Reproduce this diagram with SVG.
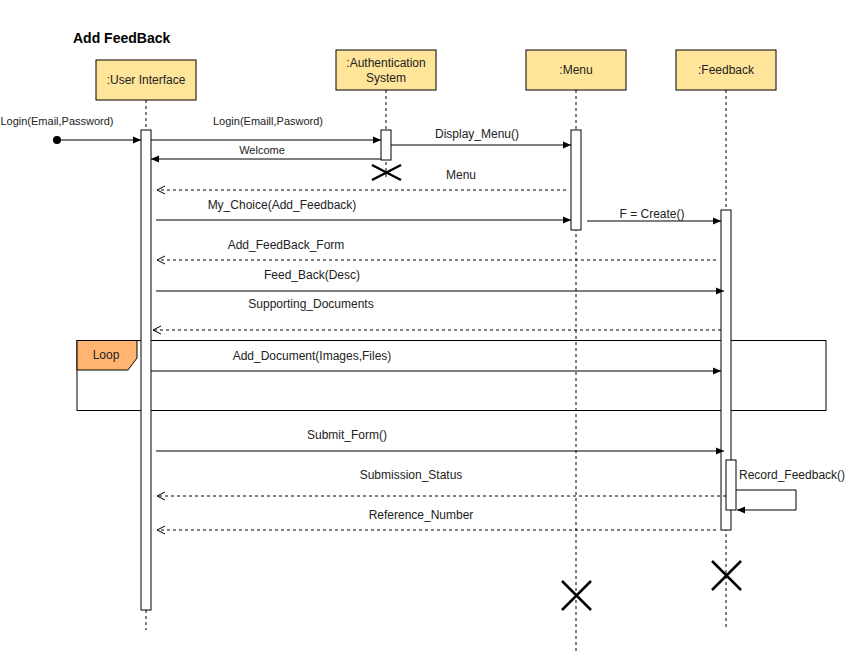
<svg xmlns="http://www.w3.org/2000/svg" width="857" height="651" viewBox="0 0 857 651">
<style>
.box{fill:#FFE599;stroke:#000;stroke-width:1}
.life{stroke:#000;stroke-width:1;stroke-dasharray:3 3;fill:none}
.act{fill:#fff;stroke:#000;stroke-width:1}
.msg{stroke:#000;stroke-width:1;fill:none;marker-end:url(#block)}
.ret{stroke:#000;stroke-width:1;fill:none;stroke-dasharray:3 3;marker-end:url(#open)}
.kill{stroke:#000;stroke-width:2.5;fill:none}
text{font-family:"Liberation Sans",Arial,sans-serif;font-size:12px;fill:#222}
.c{text-anchor:middle}
.s{font-size:11px}
</style>
<defs>
<marker id="block" viewBox="0 0 10 10" refX="9" refY="5" markerWidth="9" markerHeight="9" markerUnits="userSpaceOnUse" orient="auto">
<path d="M0,1 L9,5 L0,9 z" fill="#000"/>
</marker>
<marker id="open" viewBox="0 0 10 10" refX="9" refY="5" markerWidth="10" markerHeight="10" markerUnits="userSpaceOnUse" orient="auto">
<path d="M1,1 L9,5 L1,9" fill="none" stroke="#000" stroke-width="1"/>
</marker>
</defs>
<rect width="857" height="651" fill="#fff"/>
<text x="73" y="43" style="font-size:14px;font-weight:bold;fill:#000">Add FeedBack</text>

<g id="frame-loop">
<rect x="77" y="340.5" width="749" height="70" fill="none" stroke="#000"/>
<path d="M77,340.5 H137 V358 L128,370 H77 Z" fill="#FFB570" stroke="#000"/>
<text x="106" y="359" class="c">Loop</text>
</g>

<g id="node-ui">
<rect class="box" x="96" y="60" width="100" height="40"/>
<text x="146" y="84" class="c">:User Interface</text>
<line class="life" x1="146" y1="100" x2="146" y2="630"/>
<rect class="act" x="141" y="130" width="10" height="480"/>
</g>

<g id="node-auth">
<rect class="box" x="336" y="50" width="100" height="40"/>
<text x="386" y="67" class="c">:Authentication</text>
<text x="386" y="82" class="c">System</text>
<line class="life" x1="386" y1="90" x2="386" y2="180"/>
<rect class="act" x="381" y="130" width="10" height="30"/>
<path class="kill" d="M372,165 L401,180 M372,180 L401,165"/>
</g>

<g id="node-menu">
<rect class="box" x="526" y="50" width="100" height="40"/>
<text x="576" y="74" class="c">:Menu</text>
<line class="life" x1="576" y1="90" x2="576" y2="651"/>
<rect class="act" x="571" y="130" width="10" height="100"/>
<path class="kill" d="M562,581 L591,610 M562,610 L591,581"/>
</g>

<g id="node-feedback">
<rect class="box" x="676" y="50" width="100" height="40"/>
<text x="726" y="74" class="c">:Feedback</text>
<line class="life" x1="726" y1="90" x2="726" y2="627"/>
<rect class="act" x="721" y="210" width="10" height="320"/>
<rect class="act" x="726" y="460" width="10" height="50"/>
<path class="kill" d="M712,561 L741,590 M712,590 L741,561"/>
</g>

<g id="connectors">
<circle cx="57" cy="140" r="4" fill="#000"/>
<line class="msg" x1="57" y1="140" x2="141" y2="140"/>
<text x="57" y="125" class="c s">Login(Email,Password)</text>

<line class="msg" x1="151" y1="140" x2="381" y2="140"/>
<text x="268" y="125" class="c s">Login(Emaill,Pasword)</text>

<line class="msg" x1="381" y1="159" x2="151" y2="159"/>
<text x="262" y="154" class="c s">Welcome</text>

<line class="msg" x1="391" y1="145" x2="571" y2="145"/>
<text x="477" y="138" class="c">Display_Menu()</text>

<line class="ret" x1="566" y1="190" x2="157" y2="190"/>
<text x="461" y="179" class="c">Menu</text>

<line class="msg" x1="156" y1="220" x2="571" y2="220"/>
<text x="282" y="209" class="c">My_Choice(Add_Feedback)</text>

<line class="msg" x1="587" y1="221" x2="721" y2="221"/>
<text x="652" y="218" class="c">F = Create()</text>

<line class="ret" x1="716" y1="260" x2="157" y2="260"/>
<text x="286" y="249" class="c">Add_FeedBack_Form</text>

<line class="msg" x1="156" y1="291" x2="724" y2="291"/>
<text x="312" y="279" class="c">Feed_Back(Desc)</text>

<line class="ret" x1="721" y1="330" x2="153" y2="330"/>
<text x="311" y="308" class="c">Supporting_Documents</text>

<line class="msg" x1="151" y1="371" x2="721" y2="371"/>
<text x="312" y="360" class="c">Add_Document(Images,Files)</text>

<line class="msg" x1="156" y1="451" x2="724" y2="451"/>
<text x="347" y="439" class="c">Submit_Form()</text>

<line class="ret" x1="726" y1="496" x2="157" y2="496"/>
<text x="411" y="479" class="c">Submission_Status</text>

<path class="msg" d="M736,490 H796 V510 H737"/>
<text x="739" y="479">Record_Feedback()</text>

<line class="ret" x1="716" y1="530" x2="157" y2="530"/>
<text x="421" y="519" class="c">Reference_Number</text>
</g>
</svg>
